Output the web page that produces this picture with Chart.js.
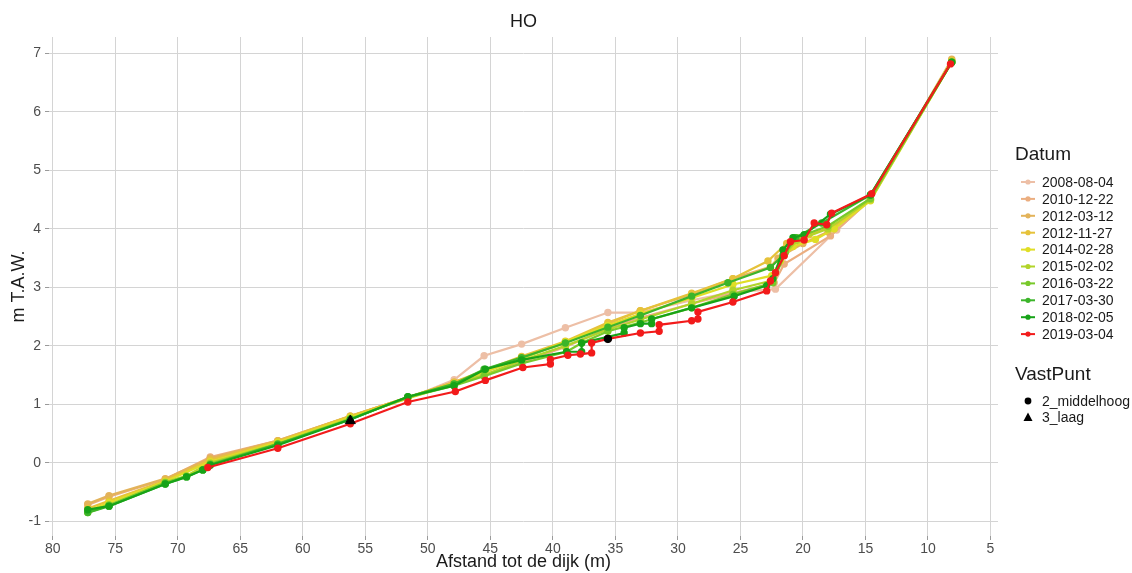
<!DOCTYPE html>
<html>
<head>
<meta charset="utf-8">
<script src="https://cdn.jsdelivr.net/npm/chart.js@4/dist/chart.umd.min.js"></script>
<style>
  html, body { margin: 0; padding: 0; background: #fff; }
  #wrap { width: 1132px; height: 573px; position: relative; }
</style>
</head>
<body>
<div id="wrap"><canvas id="profielChart"></canvas></div>
<script>
// afstand tot de dijk (m), hoogte (m T.A.W.)
const s20080804 = [[67.5,0.05],[62,0.35],[56.2,0.78],[51.6,1.1],[47.9,1.42],[45.5,1.83],[42.5,2.03],[39,2.31],[35.6,2.57],[33.1,2.57],[28.9,2.78],[25.6,2.92],[22.2,2.97],[17.3,3.98],[14.6,4.5],[8.1,6.87]];
const s20101222 = [[77.2,-0.72],[75.5,-0.58],[71,-0.28],[67.4,0.1],[62,0.38],[56.2,0.8],[51.6,1.12],[47.9,1.36],[45.5,1.5],[42.5,1.72],[39,1.98],[35.6,2.3],[33,2.48],[28.9,2.72],[25.6,2.9],[22.3,3.08],[21.5,3.4],[17.8,3.88],[14.6,4.5],[8.1,6.88]];
const s20120312 = [[77.2,-0.7],[75.5,-0.56],[71,-0.27],[67.4,0.08],[62,0.38],[56.2,0.8],[51.6,1.12],[47.9,1.38],[45.5,1.55],[42.5,1.8],[39,2.05],[35.6,2.38],[33,2.6],[28.9,2.88],[25.6,3.15],[22.6,3.35],[22,3.5],[20,3.75],[18,3.95],[14.6,4.52],[8.1,6.9]];
const s20121127 = [[77.2,-0.78],[75.5,-0.65],[71,-0.3],[67.4,0.05],[62,0.37],[56.2,0.8],[51.6,1.12],[47.9,1.38],[45.5,1.58],[42.5,1.82],[39,2.08],[35.6,2.4],[33,2.6],[28.9,2.9],[25.6,3.15],[22.8,3.45],[21.3,3.75],[19.5,3.9],[17.5,4.05],[14.6,4.5],[8.1,6.88]];
const s20140228 = [[77.2,-0.82],[75.5,-0.68],[71,-0.32],[67.4,0.02],[62,0.35],[56.2,0.78],[51.6,1.1],[47.9,1.35],[45.5,1.55],[42.5,1.78],[39,2.07],[35.6,2.35],[33,2.55],[28.9,2.82],[25.6,3.05],[22.5,3.2],[21.8,3.45],[20.8,3.7],[19,3.82],[17.5,4.0],[14.6,4.48],[8.1,6.85]];
const s20150202 = [[77.2,-0.85],[75.5,-0.73],[71,-0.33],[69.3,-0.22],[67.4,0.0],[62,0.33],[56.2,0.76],[51.6,1.12],[47.9,1.35],[45.5,1.5],[42.5,1.75],[39,2.0],[35.6,2.28],[33,2.45],[28.9,2.72],[25.6,2.95],[22.4,3.12],[21.5,3.55],[20.5,3.8],[18,4.0],[14.6,4.5],[8.1,6.85]];
const s20160322 = [[77.2,-0.83],[75.5,-0.72],[71,-0.34],[69.3,-0.23],[68,-0.12],[67.4,-0.02],[62,0.32],[56.2,0.75],[51.6,1.12],[47.9,1.32],[45.5,1.48],[42.5,1.7],[38.9,1.9],[37.7,2.05],[35.6,2.25],[33,2.4],[28.9,2.65],[25.6,2.88],[22.4,3.08],[21.4,3.6],[20.5,3.85],[18,4.05],[14.6,4.52],[8.1,6.85]];
const s20170330 = [[77.2,-0.85],[75.5,-0.74],[71,-0.36],[69.3,-0.24],[68,-0.12],[67.4,-0.03],[62,0.32],[56.2,0.74],[51.6,1.13],[47.9,1.35],[45.5,1.6],[42.5,1.8],[39,2.05],[35.6,2.32],[33,2.52],[28.9,2.85],[26,3.08],[22.6,3.34],[21.6,3.55],[20.6,3.85],[18.5,4.1],[14.6,4.58],[8.1,6.85]];
const s20180205 = [[77.2,-0.8],[75.5,-0.74],[71,-0.36],[69.3,-0.24],[68,-0.12],[67.4,-0.04],[62,0.3],[56.2,0.74],[51.6,1.13],[47.9,1.32],[45.4,1.6],[42.5,1.76],[38.9,1.9],[37.7,1.9],[37.7,2.05],[34.3,2.22],[34.3,2.31],[33,2.38],[32.1,2.38],[32.1,2.46],[28.9,2.65],[25.5,2.85],[22.9,3.03],[22.4,3.15],[21.6,3.64],[20.8,3.85],[19.9,3.9],[17.8,4.25],[14.6,4.58],[8.1,6.85]];
const s20190304 = [[67.6,-0.08],[62,0.25],[56.2,0.67],[51.6,1.04],[47.8,1.22],[45.4,1.41],[42.4,1.63],[40.2,1.69],[40.2,1.77],[38.8,1.84],[37.8,1.86],[36.9,1.88],[36.9,2.05],[35.6,2.12],[33,2.22],[31.5,2.25],[31.5,2.36],[28.9,2.43],[28.4,2.46],[28.4,2.58],[25.6,2.75],[22.9,2.94],[22.6,3.11],[22.2,3.25],[21.5,3.54],[21,3.78],[19.9,3.81],[19.1,4.1],[18.1,4.07],[17.7,4.27],[14.5,4.6],[8.2,6.82]];

const datums = ['2008-08-04','2010-12-22','2012-03-12','2012-11-27','2014-02-28','2015-02-02','2016-03-22','2017-03-30','2018-02-05','2019-03-04'];
const kleuren = ['#EDBFA6','#EBAE80','#E3B35A','#E6C23A','#E0DE26','#B2D42A','#78C92A','#3CB52A','#17A318','#F21B1B'];
const reeksen = [s20080804,s20101222,s20120312,s20121127,s20140228,s20150202,s20160322,s20170330,s20180205,s20190304];

// vaste punten
const vastPuntNamen = ['2_middelhoog','3_laag'];
const vastPuntData = [[35.6,2.12],[56.2,0.72]];

const xTicks = [80,75,70,65,60,55,50,45,40,35,30,25,20,15,10,5];
const yTicks = [-1,0,1,2,3,4,5,6,7];

const FONT = '"Liberation Sans", Arial, Helvetica, sans-serif';

const datasets = reeksen.map((r, i) => ({
  label: datums[i],
  data: r.map(p => ({ x: p[0], y: p[1] })),
  showLine: true,
  borderColor: kleuren[i],
  backgroundColor: kleuren[i],
  borderWidth: 2.2,
  pointRadius: 2.6,
  pointHoverRadius: 2.6,
  order: reeksen.length - i + 1
}));

datasets.push({
  label: 'VastPunt',
  data: vastPuntData.map(p => ({ x: p[0], y: p[1] })),
  showLine: false,
  pointStyle: ['circle', 'triangle'],
  pointRadius: [3.8, 5.8],
  backgroundColor: '#000',
  borderColor: '#000',
  borderWidth: 1,
  order: 0
});

const overlay = {
  id: 'overlay',
  afterDraw(chart) {
    const c = chart.ctx;
    const area = chart.chartArea;
    c.save();
    c.fillStyle = '#1a1a1a';
    c.textBaseline = 'middle';
    c.textAlign = 'center';
    c.font = '18px ' + FONT;
    c.fillText('HO', (area.left + area.right) / 2, 22);

    // legend
    c.textAlign = 'left';
    c.font = '19px ' + FONT;
    c.fillText('Datum', 1015, 155);
    c.font = '14px ' + FONT;
    datums.forEach((d, i) => {
      const y = 182 + i * 16.9;
      c.strokeStyle = kleuren[i];
      c.lineWidth = 2;
      c.beginPath();
      c.moveTo(1021, y);
      c.lineTo(1035, y);
      c.stroke();
      c.fillStyle = kleuren[i];
      c.beginPath();
      c.arc(1028, y, 2.6, 0, Math.PI * 2);
      c.fill();
      c.fillStyle = '#1a1a1a';
      c.fillText(d, 1042, y + 1);
    });
    c.font = '19px ' + FONT;
    c.fillText('VastPunt', 1015, 375);
    c.font = '14px ' + FONT;
    c.fillStyle = '#000';
    c.beginPath();
    c.arc(1028, 401, 3.4, 0, Math.PI * 2);
    c.fill();
    c.beginPath();
    c.moveTo(1028, 412.5);
    c.lineTo(1032.5, 421);
    c.lineTo(1023.5, 421);
    c.closePath();
    c.fill();
    c.fillStyle = '#1a1a1a';
    c.fillText(vastPuntNamen[0], 1042, 402);
    c.fillText(vastPuntNamen[1], 1042, 418);
    c.restore();
  }
};

new Chart(document.getElementById('profielChart'), {
  type: 'scatter',
  data: { datasets },
  options: {
    responsive: true,
    maintainAspectRatio: false,
    animation: false,
    layout: { padding: { top: 37, right: 134, left: 0, bottom: 0 } },
    plugins: {
      legend: { display: false },
      tooltip: { enabled: false },
      title: { display: false }
    },
    scales: {
      x: {
        type: 'linear',
        reverse: true,
        min: 4.4,
        max: 80.3,
        afterBuildTicks: s => { s.ticks = xTicks.map(v => ({ value: v })); },
        afterFit: s => { s.height = 37; },
        border: { display: false },
        grid: { color: '#d4d4d4', lineWidth: 1, tickLength: 4, tickColor: '#9a9a9a' },
        ticks: { color: '#4d4d4d', font: { family: FONT, size: 14 }, padding: 1, maxRotation: 0 },
        title: { display: true, text: 'Afstand tot de dijk (m)', color: '#1a1a1a', font: { family: FONT, size: 18 }, padding: { top: 0, bottom: 0 } }
      },
      y: {
        type: 'linear',
        min: -1.25,
        max: 7.28,
        afterBuildTicks: s => { s.ticks = yTicks.map(v => ({ value: v })); },
        afterFit: s => { s.width = 49; },
        border: { display: false },
        grid: { color: '#d4d4d4', lineWidth: 1, tickLength: 4, tickColor: '#9a9a9a' },
        ticks: { color: '#4d4d4d', font: { family: FONT, size: 14 }, padding: 4 },
        title: { display: true, text: 'm T.A.W.', color: '#1a1a1a', font: { family: FONT, size: 18 }, padding: { top: 8, bottom: 0 } }
      }
    }
  },
  plugins: [overlay]
});
</script>
</body>
</html>
